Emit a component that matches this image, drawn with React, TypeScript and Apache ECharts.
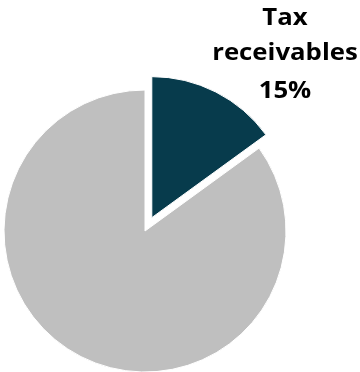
import React, { useEffect, useRef } from "react";
import * as echarts from "echarts";

const categories = ["Tax receivables", "Other"];
const values = [15, 85];
const colors = ["#073B4C", "#BFBFBF"];

export default function App() {
  const ref = useRef<HTMLDivElement>(null);
  useEffect(() => {
    const chart = echarts.init(ref.current!, undefined, { renderer: "svg" });
    const total = values.reduce((a, b) => a + b, 0);
    const lines = [
      ...categories[0].split(" "),
      Math.round((values[0] / total) * 100) + "%",
    ];
    const ys = [16.5, 51.5, 89];
    chart.setOption({
      animation: false,
      series: [
        {
          type: "pie",
          center: [145, 231],
          radius: 141,
          startAngle: 90,
          clockwise: true,
          selectedMode: "single",
          selectedOffset: 15,
          silent: true,
          itemStyle: { borderColor: "#fff", borderWidth: 1 },
          label: { show: false },
          labelLine: { show: false },
          data: categories.map((c, i) => ({
            name: c,
            value: values[i],
            selected: i === 0,
            itemStyle: { color: colors[i] },
          })),
        },
      ],
      graphic: lines.map((t, i) => ({
        type: "text",
        x: 285,
        y: ys[i],
        scaleX: 1.12,
        silent: true,
        style: {
          text: t,
          fill: "#000",
          font: "bold 23px 'Open Sans'",
          lineHeight: 26,
          textAlign: "center",
          textVerticalAlign: "middle",
        },
      })),
    });
    return () => chart.dispose();
  }, []);
  return <div ref={ref} style={{ position: "fixed", left: 0, top: 0, width: 360, height: 372 }} />;
}
